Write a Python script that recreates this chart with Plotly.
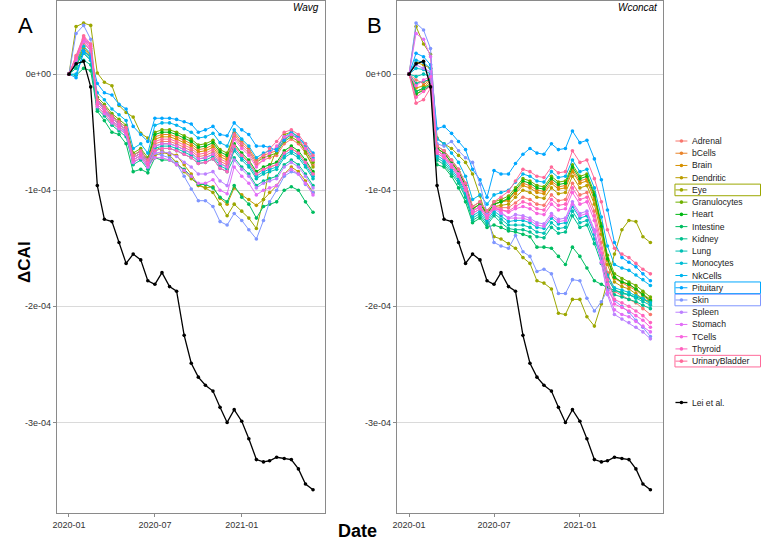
import math
import plotly.graph_objects as go

# ---------------- data ----------------
dates = ["2020-01-01", "2020-01-16", "2020-02-01", "2020-02-16", "2020-03-01", "2020-03-16",
         "2020-04-01", "2020-04-16", "2020-05-01", "2020-05-16", "2020-06-01", "2020-06-16",
         "2020-07-01", "2020-07-16", "2020-08-01", "2020-08-16", "2020-09-01", "2020-09-16",
         "2020-10-01", "2020-10-16", "2020-11-01", "2020-11-16", "2020-12-01", "2020-12-16",
         "2021-01-01", "2021-01-16", "2021-02-01", "2021-02-16", "2021-03-01", "2021-03-16",
         "2021-04-01", "2021-04-16", "2021-05-01", "2021-05-16", "2021-06-01"]

tissues = ["Adrenal", "bCells", "Brain", "Dendritic", "Eye", "Granulocytes", "Heart", "Intestine",
           "Kidney", "Lung", "Monocytes", "NkCells", "Pituitary", "Skin", "Spleen", "Stomach",
           "TCells", "Thyroid", "UrinaryBladder"]
boxed = ["Eye", "Pituitary", "Skin", "UrinaryBladder"]

tick_dates = ["2020-01-01", "2020-07-01", "2021-01-01"]
tick_date_labels = ["2020-01", "2020-07", "2021-01"]
y_ticks = [0, -1e-4, -2e-4, -3e-4]
y_tick_labels = ["0e+00", "-1e-04", "-2e-04", "-3e-04"]

SCALE = 1e-4  # values below are in units of 1e-04

lei = [0, 0.09, 0.11, -0.11, -0.96, -1.25, -1.27, -1.45, -1.63, -1.55, -1.60, -1.78, -1.81, -1.71,
       -1.83, -1.87, -2.25, -2.49, -2.61, -2.68, -2.73, -2.87, -3.00, -2.89, -2.99, -3.14, -3.32,
       -3.34, -3.33, -3.30, -3.31, -3.32, -3.40, -3.53, -3.58]

# ---- Panel A: Wavg ----
wavg_Adrenal = [0, 0.14, 0.30, 0.22, -0.24, -0.30, -0.38, -0.43, -0.48, -0.72, -0.68, -0.76, -0.60, -0.58, -0.58, -0.60, -0.63, -0.66, -0.71, -0.70, -0.67, -0.75, -0.78, -0.54, -0.62, -0.68, -0.78, -0.74, -0.72, -0.70, -0.60, -0.56, -0.60, -0.68, -0.78]
wavg_bCells = [0, 0.12, 0.27, 0.20, -0.22, -0.28, -0.36, -0.41, -0.46, -0.70, -0.66, -0.74, -0.54, -0.52, -0.52, -0.54, -0.57, -0.60, -0.65, -0.64, -0.61, -0.69, -0.72, -0.50, -0.58, -0.64, -0.74, -0.70, -0.68, -0.66, -0.56, -0.52, -0.56, -0.64, -0.74]
wavg_Brain = [0, 0.10, 0.24, 0.16, -0.24, -0.30, -0.38, -0.43, -0.48, -0.72, -0.68, -0.76, -0.56, -0.54, -0.54, -0.56, -0.59, -0.62, -0.67, -0.66, -0.63, -0.71, -0.74, -0.62, -0.70, -0.76, -0.86, -0.82, -0.80, -0.78, -0.68, -0.64, -0.68, -0.76, -0.86]
wavg_Dendritic = [0, 0.10, 0.22, 0.15, -0.28, -0.34, -0.42, -0.47, -0.52, -0.76, -0.72, -0.80, -0.70, -0.68, -0.68, -0.70, -0.78, -0.86, -0.96, -0.98, -0.97, -1.07, -1.12, -0.98, -1.04, -1.08, -1.13, -1.08, -1.02, -0.96, -0.86, -0.80, -0.84, -0.92, -1.02]
wavg_Eye = [0, 0.41, 0.44, 0.42, 0.01, -0.07, -0.10, -0.27, -0.33, -0.37, -0.51, -0.55, -0.62, -0.66, -0.70, -0.76, -0.84, -0.90, -0.95, -0.98, -1.02, -1.12, -1.22, -1.12, -1.18, -1.24, -1.33, -1.08, -0.80, -0.65, -0.52, -0.50, -0.54, -0.68, -0.80]
wavg_Granulocytes = [0, 0.10, 0.20, 0.14, -0.20, -0.26, -0.34, -0.39, -0.44, -0.68, -0.64, -0.72, -0.50, -0.48, -0.48, -0.50, -0.53, -0.56, -0.61, -0.60, -0.57, -0.65, -0.68, -0.52, -0.60, -0.66, -0.76, -0.72, -0.70, -0.68, -0.58, -0.54, -0.58, -0.66, -0.76]
wavg_Heart = [0, 0.08, 0.18, 0.12, -0.22, -0.28, -0.36, -0.41, -0.46, -0.70, -0.66, -0.74, -0.52, -0.50, -0.50, -0.52, -0.55, -0.58, -0.63, -0.62, -0.59, -0.67, -0.70, -0.60, -0.68, -0.74, -0.84, -0.80, -0.78, -0.76, -0.66, -0.62, -0.66, -0.74, -0.84]
wavg_Intestine = [0, -0.01, 0.05, 0.03, -0.32, -0.40, -0.50, -0.52, -0.60, -0.84, -0.82, -0.85, -0.72, -0.74, -0.74, -0.78, -0.82, -0.88, -0.95, -0.95, -0.98, -1.06, -1.10, -0.96, -1.06, -1.12, -1.24, -1.14, -1.12, -1.10, -1.00, -0.97, -1.00, -1.10, -1.19]
wavg_Kidney = [0, 0.05, 0.12, 0.08, -0.30, -0.36, -0.44, -0.49, -0.54, -0.78, -0.74, -0.82, -0.66, -0.64, -0.64, -0.66, -0.69, -0.72, -0.77, -0.76, -0.73, -0.81, -0.84, -0.72, -0.80, -0.86, -0.96, -0.92, -0.90, -0.88, -0.78, -0.74, -0.78, -0.86, -0.96]
wavg_Lung = [0, 0.08, 0.20, 0.14, -0.26, -0.32, -0.40, -0.45, -0.50, -0.74, -0.70, -0.78, -0.64, -0.62, -0.62, -0.64, -0.67, -0.70, -0.75, -0.74, -0.71, -0.79, -0.82, -0.66, -0.74, -0.80, -0.90, -0.86, -0.84, -0.82, -0.72, -0.68, -0.72, -0.80, -0.90]
wavg_Monocytes = [0, 0.10, 0.24, 0.18, -0.24, -0.30, -0.38, -0.43, -0.48, -0.72, -0.68, -0.76, -0.62, -0.60, -0.60, -0.62, -0.65, -0.68, -0.73, -0.72, -0.69, -0.77, -0.80, -0.64, -0.72, -0.78, -0.88, -0.84, -0.82, -0.80, -0.70, -0.66, -0.70, -0.78, -0.88]
wavg_NkCells = [0, 0.00, 0.18, 0.12, -0.16, -0.22, -0.30, -0.35, -0.40, -0.64, -0.60, -0.68, -0.44, -0.42, -0.42, -0.44, -0.47, -0.50, -0.55, -0.54, -0.51, -0.59, -0.62, -0.48, -0.56, -0.62, -0.72, -0.68, -0.66, -0.64, -0.54, -0.50, -0.54, -0.62, -0.72]
wavg_Pituitary = [0, -0.03, 0.20, 0.15, -0.08, -0.16, -0.18, -0.26, -0.30, -0.45, -0.52, -0.58, -0.38, -0.38, -0.38, -0.39, -0.41, -0.43, -0.50, -0.48, -0.45, -0.52, -0.53, -0.42, -0.48, -0.52, -0.62, -0.62, -0.63, -0.66, -0.57, -0.52, -0.55, -0.60, -0.68]
wavg_Skin = [0, 0.35, 0.42, 0.30, -0.22, -0.30, -0.40, -0.46, -0.52, -0.76, -0.72, -0.80, -0.68, -0.70, -0.72, -0.77, -0.88, -0.99, -1.09, -1.09, -1.14, -1.27, -1.30, -1.20, -1.26, -1.34, -1.42, -1.26, -1.10, -1.00, -0.88, -0.84, -0.86, -0.95, -1.02]
wavg_Spleen = [0, 0.15, 0.32, 0.25, -0.26, -0.32, -0.40, -0.45, -0.50, -0.74, -0.70, -0.78, -0.68, -0.67, -0.68, -0.71, -0.76, -0.80, -0.86, -0.86, -0.84, -0.92, -0.96, -0.74, -0.82, -0.88, -0.98, -0.94, -0.92, -0.90, -0.80, -0.76, -0.80, -0.88, -0.98]
wavg_Stomach = [0, 0.13, 0.28, 0.20, -0.28, -0.34, -0.42, -0.47, -0.52, -0.76, -0.72, -0.80, -0.72, -0.72, -0.74, -0.78, -0.83, -0.88, -0.94, -0.94, -0.91, -1.00, -1.03, -0.80, -0.88, -0.94, -1.04, -1.00, -0.98, -0.96, -0.86, -0.82, -0.86, -0.94, -1.04]
wavg_TCells = [0, 0.12, 0.30, 0.22, -0.24, -0.30, -0.38, -0.43, -0.48, -0.72, -0.68, -0.76, -0.62, -0.60, -0.60, -0.62, -0.65, -0.68, -0.73, -0.72, -0.69, -0.77, -0.80, -0.56, -0.64, -0.70, -0.80, -0.74, -0.68, -0.62, -0.54, -0.52, -0.56, -0.64, -0.74]
wavg_Thyroid = [0, 0.14, 0.31, 0.24, -0.26, -0.32, -0.40, -0.45, -0.50, -0.74, -0.70, -0.78, -0.66, -0.64, -0.64, -0.66, -0.69, -0.72, -0.77, -0.76, -0.73, -0.81, -0.84, -0.62, -0.70, -0.76, -0.86, -0.82, -0.80, -0.78, -0.68, -0.64, -0.68, -0.76, -0.86]
wavg_UrinaryBladder = [0, 0.16, 0.33, 0.26, -0.22, -0.28, -0.36, -0.41, -0.46, -0.70, -0.66, -0.74, -0.58, -0.56, -0.56, -0.58, -0.61, -0.64, -0.69, -0.68, -0.65, -0.73, -0.76, -0.52, -0.60, -0.66, -0.76, -0.70, -0.64, -0.58, -0.50, -0.48, -0.52, -0.60, -0.70]

# ---- Panel B: Wconcat ----
wconcat_Adrenal = [0, -0.05, -0.08, -0.02, -0.66, -0.70, -0.78, -0.86, -0.98, -1.18, -1.14, -1.22, -1.14, -1.15, -1.15, -1.11, -1.06, -1.08, -1.12, -1.13, -1.04, -1.09, -1.08, -0.94, -1.04, -1.02, -1.18, -1.45, -1.71, -1.87, -1.91, -1.94, -1.97, -2.02, -2.07]
wconcat_bCells = [0, -0.18, -0.12, -0.05, -0.64, -0.68, -0.76, -0.84, -0.96, -1.16, -1.12, -1.20, -1.12, -1.10, -1.08, -1.01, -0.94, -0.96, -1.00, -1.01, -0.92, -0.97, -0.96, -0.82, -0.92, -0.90, -1.06, -1.33, -1.60, -1.76, -1.80, -1.83, -1.86, -1.91, -1.96]
wconcat_Brain = [0, -0.12, -0.10, -0.03, -0.64, -0.68, -0.76, -0.84, -0.96, -1.16, -1.12, -1.20, -1.12, -1.10, -1.09, -1.03, -0.96, -0.98, -1.02, -1.03, -0.94, -0.99, -0.98, -0.84, -0.94, -0.92, -1.08, -1.34, -1.60, -1.75, -1.79, -1.81, -1.85, -1.89, -1.94]
wconcat_Dendritic = [0, 0.10, 0.08, 0.05, -0.66, -0.70, -0.78, -0.86, -0.98, -1.18, -1.14, -1.22, -1.14, -1.13, -1.12, -1.06, -1.00, -1.02, -1.06, -1.07, -0.98, -1.03, -1.02, -0.88, -0.98, -0.96, -1.12, -1.38, -1.64, -1.79, -1.83, -1.85, -1.89, -1.93, -1.98]
wconcat_Eye = [0, 0.41, 0.26, 0.17, -0.55, -0.60, -0.64, -0.70, -0.76, -0.86, -1.05, -1.25, -1.40, -1.42, -1.46, -1.50, -1.58, -1.63, -1.78, -1.80, -1.85, -2.06, -2.07, -1.94, -1.94, -2.09, -2.17, -1.98, -1.78, -1.55, -1.34, -1.26, -1.27, -1.40, -1.45]
wconcat_Granulocytes = [0, -0.15, -0.12, -0.08, -0.62, -0.66, -0.74, -0.82, -0.94, -1.14, -1.10, -1.18, -1.10, -1.08, -1.05, -0.98, -0.90, -0.92, -0.96, -0.97, -0.88, -0.93, -0.92, -0.78, -0.88, -0.86, -1.02, -1.29, -1.56, -1.72, -1.76, -1.79, -1.82, -1.87, -1.92]
wconcat_Heart = [0, -0.17, -0.14, -0.10, -0.64, -0.68, -0.76, -0.84, -0.96, -1.16, -1.12, -1.20, -1.12, -1.10, -1.07, -1.00, -0.92, -0.94, -0.98, -0.99, -0.90, -0.95, -0.94, -0.80, -0.90, -0.88, -1.04, -1.31, -1.59, -1.75, -1.79, -1.81, -1.85, -1.90, -1.95]
wconcat_Intestine = [0, -0.15, -0.12, -0.10, -0.78, -0.80, -0.88, -0.98, -1.10, -1.28, -1.24, -1.32, -1.30, -1.32, -1.35, -1.36, -1.38, -1.40, -1.49, -1.49, -1.50, -1.57, -1.64, -1.49, -1.57, -1.67, -1.78, -1.81, -1.84, -1.86, -1.88, -1.90, -1.92, -1.94, -1.96]
wconcat_Kidney = [0, -0.08, -0.06, -0.05, -0.74, -0.78, -0.86, -0.94, -1.06, -1.26, -1.22, -1.30, -1.22, -1.28, -1.33, -1.34, -1.34, -1.36, -1.40, -1.41, -1.32, -1.37, -1.36, -1.22, -1.32, -1.30, -1.46, -1.63, -1.80, -1.90, -1.92, -1.94, -1.96, -1.99, -2.02]
wconcat_Lung = [0, -0.02, 0.00, -0.02, -0.72, -0.76, -0.84, -0.92, -1.04, -1.24, -1.20, -1.28, -1.20, -1.25, -1.30, -1.30, -1.30, -1.32, -1.36, -1.37, -1.28, -1.33, -1.32, -1.18, -1.28, -1.26, -1.42, -1.59, -1.76, -1.86, -1.89, -1.90, -1.93, -1.96, -1.99]
wconcat_Monocytes = [0, 0.05, 0.04, 0.00, -0.70, -0.74, -0.82, -0.90, -1.02, -1.22, -1.18, -1.26, -1.18, -1.22, -1.27, -1.26, -1.26, -1.28, -1.32, -1.33, -1.24, -1.29, -1.28, -1.14, -1.24, -1.22, -1.38, -1.56, -1.73, -1.84, -1.86, -1.88, -1.91, -1.93, -1.97]
wconcat_NkCells = [0, 0.12, 0.10, 0.05, -0.56, -0.60, -0.68, -0.76, -0.88, -1.08, -1.04, -1.12, -1.04, -1.02, -1.00, -0.93, -0.86, -0.88, -0.92, -0.93, -0.84, -0.89, -0.88, -0.74, -0.84, -0.82, -0.98, -1.23, -1.48, -1.64, -1.67, -1.69, -1.73, -1.77, -1.82]
wconcat_Pituitary = [0, 0.18, 0.15, 0.08, -0.47, -0.45, -0.51, -0.58, -0.65, -0.82, -0.91, -1.06, -0.83, -0.86, -0.86, -0.77, -0.69, -0.64, -0.68, -0.69, -0.60, -0.65, -0.64, -0.49, -0.59, -0.57, -0.73, -0.91, -1.17, -1.45, -1.58, -1.62, -1.66, -1.72, -1.78]
wconcat_Skin = [0, 0.44, 0.38, 0.22, -0.60, -0.62, -0.58, -0.66, -0.72, -0.76, -0.95, -1.20, -1.45, -1.48, -1.50, -1.39, -1.53, -1.57, -1.70, -1.68, -1.72, -1.89, -1.89, -1.77, -1.78, -1.93, -2.04, -1.96, -1.86, -1.95, -2.00, -2.05, -2.12, -2.18, -2.26]
wconcat_Spleen = [0, 0.08, 0.05, 0.02, -0.68, -0.72, -0.80, -0.88, -1.00, -1.20, -1.16, -1.24, -1.16, -1.20, -1.24, -1.21, -1.22, -1.24, -1.28, -1.29, -1.20, -1.25, -1.24, -1.10, -1.20, -1.18, -1.34, -1.62, -1.90, -2.07, -2.11, -2.14, -2.18, -2.22, -2.28]
wconcat_Stomach = [0, 0.35, 0.30, 0.15, -0.66, -0.70, -0.78, -0.86, -0.98, -1.18, -1.14, -1.22, -1.14, -1.19, -1.24, -1.24, -1.24, -1.26, -1.30, -1.31, -1.22, -1.27, -1.26, -1.12, -1.22, -1.20, -1.36, -1.62, -1.88, -2.03, -2.07, -2.09, -2.13, -2.17, -2.22]
wconcat_TCells = [0, -0.10, -0.05, -0.02, -0.66, -0.70, -0.78, -0.86, -0.98, -1.18, -1.14, -1.22, -1.14, -1.17, -1.19, -1.16, -1.14, -1.16, -1.20, -1.21, -1.12, -1.17, -1.16, -1.02, -1.12, -1.10, -1.26, -1.54, -1.81, -1.98, -2.01, -2.04, -2.08, -2.12, -2.18]
wconcat_Thyroid = [0, -0.20, -0.15, -0.10, -0.68, -0.72, -0.80, -0.88, -1.00, -1.20, -1.16, -1.24, -1.16, -1.17, -1.18, -1.14, -1.10, -1.12, -1.16, -1.17, -1.08, -1.13, -1.12, -0.98, -1.08, -1.06, -1.22, -1.50, -1.77, -1.94, -1.97, -2.00, -2.04, -2.08, -2.14]
wconcat_UrinaryBladder = [0, -0.25, -0.22, -0.12, -0.62, -0.66, -0.74, -0.82, -0.94, -1.14, -1.10, -1.18, -1.10, -1.06, -1.01, -0.92, -0.82, -0.84, -0.88, -0.89, -0.80, -0.85, -0.84, -0.66, -0.76, -0.74, -0.90, -1.10, -1.34, -1.50, -1.55, -1.58, -1.63, -1.68, -1.72]

wavg = {t: globals()["wavg_" + t] for t in tissues}
wconcat = {t: globals()["wconcat_" + t] for t in tissues}


# ---------------- colours (ggplot2 default hue palette) ----------------
def hcl_hex(h, c=100.0, l=65.0):
    hr = math.radians(h)
    U, V = c * math.cos(hr), c * math.sin(hr)
    Xn, Yn, Zn = 95.047, 100.0, 108.883
    den = Xn + 15 * Yn + 3 * Zn
    un, vn = 4 * Xn / den, 9 * Yn / den
    Y = Yn * ((l + 16) / 116) ** 3
    u = U / (13 * l) + un
    v = V / (13 * l) + vn
    X = 9.0 * Y * u / (4 * v)
    Z = -X / 3 - 5 * Y + 3 * Y / v
    X, Y, Z = X / 100, Y / 100, Z / 100
    r = 3.240479 * X - 1.537150 * Y - 0.498535 * Z
    g = -0.969256 * X + 1.875992 * Y + 0.041556 * Z
    b = 0.055648 * X - 0.204043 * Y + 1.057311 * Z

    def gam(t):
        t = 12.92 * t if t <= 0.0031308 else 1.055 * t ** (1 / 2.4) - 0.055
        return max(0, min(255, round(t * 255)))
    return "#%02X%02X%02X" % (gam(r), gam(g), gam(b))


n = len(tissues)
colors = {t: hcl_hex(15 + 360.0 / n * k) for k, t in enumerate(tissues)}

W, H = 762, 542
FONT = "Liberation Sans, Arial, sans-serif"

fig = go.Figure()

panels = [(wavg, "x", "y"), (wconcat, "x2", "y2")]
for data, xa, ya in panels:
    for t in tissues:
        fig.add_trace(go.Scatter(
            x=dates, y=[v * SCALE for v in data[t]], xaxis=xa, yaxis=ya,
            mode="lines+markers", name=t, showlegend=False,
            line=dict(color=colors[t], width=1),
            marker=dict(color=colors[t], size=3.6)))
    fig.add_trace(go.Scatter(
        x=dates, y=[v * SCALE for v in lei], xaxis=xa, yaxis=ya,
        mode="lines+markers", name="Lei et al.", showlegend=False,
        line=dict(color="black", width=1.3),
        marker=dict(color="black", size=3.6)))


def px_x(x):
    return x / W


def px_y(y):
    return 1 - y / H


xrange_ = ["2019-12-06", "2021-06-27"]
yrange_ = [-3.78e-4, 0.63e-4]
grid_col = "#DADADA"
border_col = "#8A8A8A"
tickfont = dict(family=FONT, size=9, color="#333333")

common_x = dict(type="date", range=xrange_, tickvals=tick_dates, ticktext=tick_date_labels,
                showgrid=False, zeroline=False, showline=True, mirror=True,
                linecolor=border_col, linewidth=1, ticks="outside", ticklen=3,
                tickcolor=border_col, tickfont=tickfont)
common_y = dict(range=yrange_, tickvals=y_ticks, ticktext=y_tick_labels, showgrid=True,
                gridcolor=grid_col, gridwidth=1, zeroline=False, showline=True, mirror=True,
                linecolor=border_col, linewidth=1, ticks="outside", ticklen=3,
                tickcolor=border_col, tickfont=tickfont)

ydom = [px_y(513), px_y(1)]
fig.update_layout(
    width=W, height=H, margin=dict(l=0, r=0, t=0, b=0),
    paper_bgcolor="white", plot_bgcolor="white", showlegend=False,
    xaxis=dict(domain=[px_x(53), px_x(323)], anchor="y", **common_x),
    yaxis=dict(domain=ydom, anchor="x", **common_y),
    xaxis2=dict(domain=[px_x(395), px_x(662)], anchor="y2", **common_x),
    yaxis2=dict(domain=ydom, anchor="x2", **common_y),
)

ann = []
shapes = []
ann.append(dict(text="A", x=px_x(22), y=px_y(25), xref="paper", yref="paper", showarrow=False,
                font=dict(family=FONT, size=22, color="black"), xanchor="center", yanchor="middle"))
ann.append(dict(text="B", x=px_x(372), y=px_y(25), xref="paper", yref="paper", showarrow=False,
                font=dict(family=FONT, size=22, color="black"), xanchor="center", yanchor="middle"))
ann.append(dict(text="<i>Wavg</i>", x=px_x(319), y=px_y(7), xref="paper", yref="paper",
                showarrow=False, font=dict(family=FONT, size=10, color="black"),
                xanchor="right", yanchor="middle"))
ann.append(dict(text="<i>Wconcat</i>", x=px_x(659), y=px_y(7), xref="paper", yref="paper",
                showarrow=False, font=dict(family=FONT, size=10, color="black"),
                xanchor="right", yanchor="middle"))
ann.append(dict(text="<b>ΔCAI</b>", x=px_x(20), y=px_y(262), xref="paper", yref="paper",
                showarrow=False, textangle=-90, font=dict(family=FONT, size=17, color="black"),
                xanchor="center", yanchor="middle"))
ann.append(dict(text="<b>Date</b>", x=px_x(355), y=px_y(531), xref="paper", yref="paper",
                showarrow=False, font=dict(family=FONT, size=18, color="black"),
                xanchor="center", yanchor="middle"))

# legend (drawn manually to match compact ggplot legend spacing)
leg_items = [(t, colors[t]) for t in tissues]
leg_y0, leg_step = 141, 12.23
for k, (label, col) in enumerate(leg_items):
    yy = leg_y0 + leg_step * k
    shapes.append(dict(type="line", xref="paper", yref="paper", x0=px_x(675), x1=px_x(687),
                       y0=px_y(yy), y1=px_y(yy), line=dict(color=col, width=1)))
    shapes.append(dict(type="circle", xref="paper", yref="paper", x0=px_x(679.2), x1=px_x(682.8),
                       y0=px_y(yy + 1.8), y1=px_y(yy - 1.8), fillcolor=col, line=dict(width=0)))
    ann.append(dict(text=label, x=px_x(691), y=px_y(yy), xref="paper", yref="paper",
                    showarrow=False, font=dict(family=FONT, size=8.6, color="#1A1A1A"),
                    xanchor="left", yanchor="middle", borderpad=0))
    if label in boxed:
        shapes.append(dict(type="rect", xref="paper", yref="paper", x0=px_x(674.5), x1=px_x(760.5),
                           y0=px_y(yy + 5.8), y1=px_y(yy - 5.8), line=dict(color=col, width=1),
                           fillcolor="rgba(0,0,0,0)"))
yy = 402.5
shapes.append(dict(type="line", xref="paper", yref="paper", x0=px_x(675), x1=px_x(687),
                   y0=px_y(yy), y1=px_y(yy), line=dict(color="black", width=1.3)))
shapes.append(dict(type="circle", xref="paper", yref="paper", x0=px_x(679.2), x1=px_x(682.8),
                   y0=px_y(yy + 1.8), y1=px_y(yy - 1.8), fillcolor="black", line=dict(width=0)))
ann.append(dict(text="Lei et al.", x=px_x(691), y=px_y(yy), xref="paper", yref="paper",
                showarrow=False, font=dict(family=FONT, size=8.6, color="#1A1A1A"),
                xanchor="left", yanchor="middle", borderpad=0))

fig.update_layout(annotations=ann, shapes=shapes)
fig.write_html("out.html", config={"displayModeBar": False},
               post_script="document.body.style.margin='0';document.body.style.padding='0';")
